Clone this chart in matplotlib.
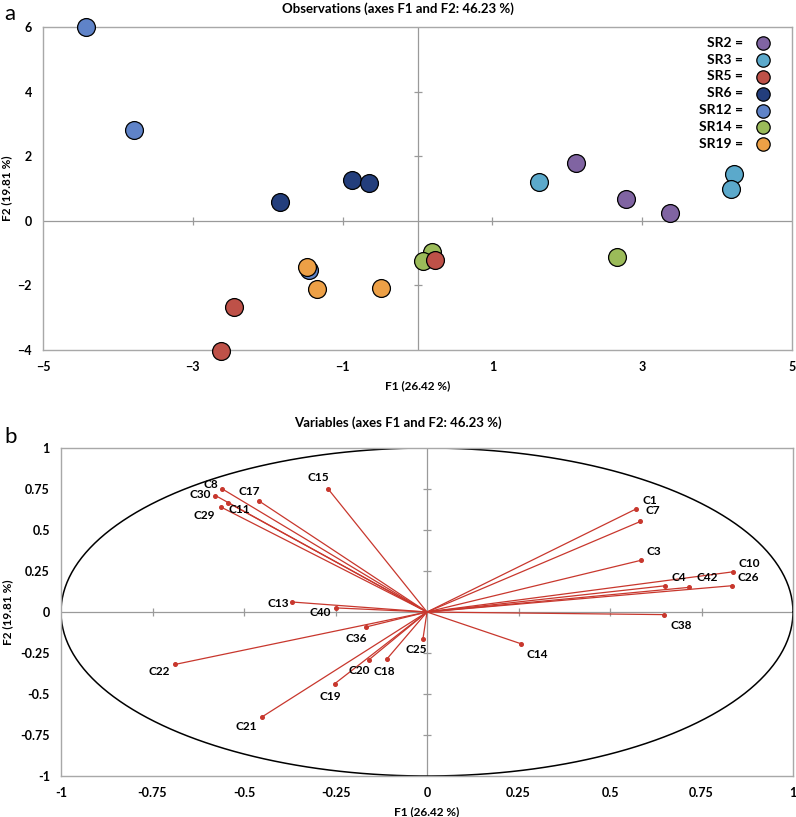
import matplotlib
matplotlib.use("Agg")
import matplotlib.pyplot as plt
import numpy as np

plt.rcParams["font.family"] = ["Lato", "DejaVu Sans"]

# ---- observations (panel a) ----
GROUPS = ["SR2", "SR3", "SR5", "SR6", "SR12", "SR14", "SR19"]
GROUP_COLORS = ["#8064A2", "#5BA9CB", "#BE5148", "#233E7C", "#5F83C8", "#9BBB59", "#EDA046"]
GROUP_Z = [3, 3, 6, 3, 3, 4, 5]
OBS_F1 = {
    "SR2": [2.12, 2.79, 3.37],
    "SR3": [1.62, 4.22, 4.18],
    "SR5": [-2.45, -2.63, 0.23],
    "SR6": [-1.83, -0.87, -0.65],
    "SR12": [-4.43, -3.79, -1.45],
    "SR14": [0.20, 0.08, 2.66],
    "SR19": [-1.48, -1.34, -0.49],
}
OBS_F2 = {
    "SR2": [1.79, 0.67, 0.24],
    "SR3": [1.19, 1.45, 0.98],
    "SR5": [-2.67, -4.02, -1.21],
    "SR6": [0.57, 1.27, 1.18],
    "SR12": [6.0, 2.80, -1.52],
    "SR14": [-0.96, -1.24, -1.12],
    "SR19": [-1.43, -2.12, -2.09],
}
OBS_XTICKS = [-5, -3, -1, 1, 3, 5]
OBS_YTICKS = [-4, -2, 0, 2, 4, 6]

# ---- variables (panel b) ----
VARS = ["C15", "C8", "C30", "C11", "C29", "C17", "C13", "C40", "C36", "C22",
        "C20", "C18", "C19", "C21", "C25", "C14", "C38", "C1", "C7", "C3",
        "C10", "C26", "C4", "C42"]
VAR_F1 = [-0.27, -0.559, -0.578, -0.544, -0.563, -0.459, -0.369, -0.25, -0.166, -0.689,
          -0.158, -0.109, -0.252, -0.451, -0.011, 0.256, 0.648, 0.570, 0.583, 0.586,
          0.836, 0.832, 0.651, 0.715]
VAR_F2 = [0.75, 0.75, 0.71, 0.667, 0.64, 0.677, 0.061, 0.025, -0.091, -0.32,
          -0.29, -0.285, -0.437, -0.64, -0.163, -0.193, -0.016, 0.627, 0.552, 0.316,
          0.245, 0.16, 0.16, 0.15]
# label offsets in points (dx, dy)
VAR_OFFSETS = [(-7, 8), (-8, 3), (-11, 1), (8, -5), (-12, -6), (-7, 7), (-10, -1), (-11, -3),
               (-7, -8), (-11, -5), (-7, -8), (-2, -9), (-3, -9), (-11, -7), (-5, -8),
               (12, -8), (12, -8), (10, 6), (9, 8), (9, 6), (12, 6), (12, 6), (10, 6), (13, 7)]
VAR_TICKS = [-1, -0.75, -0.5, -0.25, 0, 0.25, 0.5, 0.75, 1]
VAR_TICKLABELS = ["-1", "-0.75", "-0.5", "-0.25", "0", "0.25", "0.5", "0.75", "1"]

GRAY = "#9A9A9A"
RED = "#C8372D"


def style_axes(ax, xticks, yticks, xlabels=None, ylabels=None):
    for s in ax.spines.values():
        s.set_color("#A8A8A8")
        s.set_linewidth(1.0)
    ax.set_xticks(xticks)
    ax.set_yticks(yticks)
    if xlabels is not None:
        ax.set_xticklabels(xlabels)
    if ylabels is not None:
        ax.set_yticklabels(ylabels)
    ax.tick_params(length=0, labelsize=9, pad=8)
    for lab in ax.get_xticklabels() + ax.get_yticklabels():
        lab.set_fontweight("bold")
    ax.axhline(0, color=GRAY, lw=0.9, zorder=1)
    ax.axvline(0, color=GRAY, lw=0.9, zorder=1)
    # small tick marks on the zero lines
    inner_x = [t for t in xticks if t not in (0, xticks[0], xticks[-1])]
    inner_y = [t for t in yticks if t not in (0, yticks[0], yticks[-1])]
    ax.plot(inner_x, [0] * len(inner_x), ls="none", marker="|", ms=6, color=GRAY, mew=0.9, zorder=1)
    ax.plot([0] * len(inner_y), inner_y, ls="none", marker="_", ms=6, color=GRAY, mew=0.9, zorder=1)


fig = plt.figure(figsize=(7.96, 8.17), dpi=100)

# ---------------- panel a ----------------
ax1 = fig.add_axes([43 / 796, 1 - 350 / 817, 749 / 796, 323 / 817])
handles = []
for g, c, z in zip(GROUPS, GROUP_COLORS, GROUP_Z):
    h = ax1.scatter(OBS_F1[g], OBS_F2[g], s=165, color=c, edgecolor="black", linewidth=0.9,
                    zorder=z, label=f"{g} =", clip_on=False)
    handles.append(h)
ax1.set_xlim(-5, 5)
ax1.set_ylim(-4, 6)
style_axes(ax1, OBS_XTICKS, OBS_YTICKS)
ax1.set_xlabel("F1 (26.42 %)", fontsize=8.5, fontweight="bold", labelpad=5)
ax1.set_ylabel("F2 (19.81 %)", fontsize=8.5, fontweight="bold")
ax1.yaxis.set_label_coords(-31 / 749, 0.5)
leg = ax1.legend(handles=handles, loc="upper right", frameon=False, markerfirst=False,
                 prop={"weight": "bold", "size": 10}, handletextpad=0.45, labelspacing=0.35,
                 borderaxespad=0.3, markerscale=0.75, bbox_to_anchor=(0.993, 1.0))
fig.text(0.5, 1 - 9 / 817, "Observations (axes F1 and F2: 46.23 %)", ha="center", va="center",
         fontsize=9.5, fontweight="bold")
fig.text(4 / 796, 1 - 14 / 817, "a", ha="left", va="center", fontsize=16)

# ---------------- panel b ----------------
ax2 = fig.add_axes([61 / 796, 1 - 776 / 817, 732 / 796, 328 / 817])
theta = np.linspace(0, 2 * np.pi, 400)
ax2.plot(np.cos(theta), np.sin(theta), color="black", lw=1.1, zorder=2)
for name, x, y, (dx, dy) in zip(VARS, VAR_F1, VAR_F2, VAR_OFFSETS):
    ax2.plot([0, x], [0, y], color=RED, lw=0.9, zorder=3)
    ax2.plot([x], [y], ls="none", marker="o", ms=2.6, color=RED, zorder=4)
    ax2.annotate(name, (x, y), xytext=(dx, dy), textcoords="offset points", ha="center",
                 va="center", fontsize=8.5, fontweight="bold", zorder=5)
ax2.set_xlim(-1, 1)
ax2.set_ylim(-1, 1)
style_axes(ax2, VAR_TICKS, VAR_TICKS, VAR_TICKLABELS, VAR_TICKLABELS)
ax2.set_xlabel("F1 (26.42 %)", fontsize=8.5, fontweight="bold", labelpad=5)
ax2.set_ylabel("F2 (19.81 %)", fontsize=8.5, fontweight="bold")
ax2.yaxis.set_label_coords(-48 / 732, 0.5)
fig.text(0.5, 1 - 423 / 817, "Variables (axes F1 and F2: 46.23 %)", ha="center", va="center",
         fontsize=9.5, fontweight="bold")
fig.text(4 / 796, 1 - 437 / 817, "b", ha="left", va="center", fontsize=16)

fig.savefig("out.png", dpi=100)
